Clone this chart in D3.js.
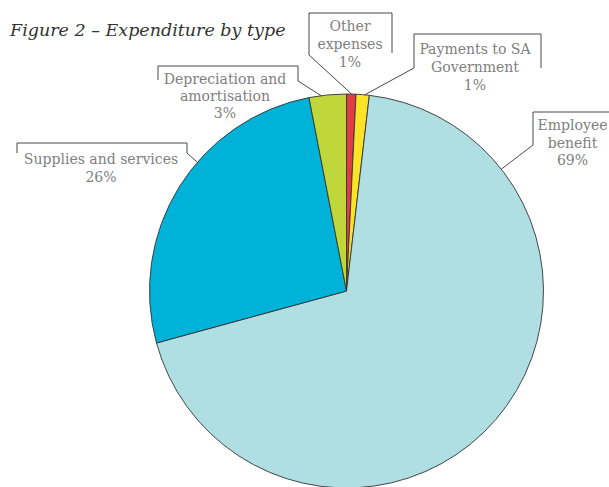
<!DOCTYPE html>
<html><head><meta charset="utf-8">
<script src="https://cdn.jsdelivr.net/npm/d3@7"></script>
<style>
html,body{margin:0;padding:0;background:#fff;}
svg{display:block;}
</style></head>
<body>
<svg id="c" width="609" height="487"></svg>
<script>
// ---- data ----
const categories = ["Other expenses", "Payments to SA Government", "Employee benefit", "Supplies and services", "Depreciation and amortisation"];
const values = [0.77, 1.08, 68.9, 26.2, 3.05];
const labelLines = [["Other", "expenses", "1%"], ["Payments to SA", "Government", "1%"], ["Employee", "benefit", "69%"], ["Supplies and services", "26%"], ["Depreciation and", "amortisation", "3%"]];
const colors = ["#e43c44", "#fde327", "#afdee3", "#00b2d8", "#bfd73a"];

// ---- layout ----
const W = 609, H = 487, cx = 346.5, cy = 291, R = 197;
const svg = d3.select("#c");
const font = "'DejaVu Serif', serif";

svg.append("text").attr("x", 10).attr("y", 36)
  .attr("font-family", font).attr("font-style", "italic").attr("font-size", 17.5)
  .attr("fill", "#333").text("Figure 2 \u2013 Expenditure by type");

const pie = d3.pie().sort(null).value(d => d)(values);
const arc = d3.arc().innerRadius(0).outerRadius(R);
const g = svg.append("g").attr("transform", `translate(${cx},${cy})`);
g.selectAll("path").data(pie).join("path")
  .attr("d", arc).attr("fill", (d, i) => colors[i])
  .attr("stroke", "#333").attr("stroke-width", 0.9).attr("stroke-linejoin", "round");

// label boxes: left, right, top, bottom of left leg, bottom of right leg, leader side, anchor angle(deg), text centre x, first baseline, line height
const boxes = [
  {l: 309, r: 392, t: 13, bl: 55, br: 53, side: "l", ang: 1.5, tx: 350, ty: 30.5, lh: 18},
  {l: 414, r: 541, t: 34, bl: 68, br: 68, side: "l", ang: 5.3, tx: 475, ty: 53.5, lh: 18},
  {l: 533, r: 640, t: 112, bl: 145, br: 145, side: "l", ang: 51.8, tx: 572.5, ty: 130, lh: 17.5},
  {l: 17, r: 187, t: 143, bl: 153, br: 153, side: "r", ang: 310.8, tx: 101, ty: 164, lh: 18},
  {l: 158, r: 298, t: 66, bl: 80, br: 81, side: "r", ang: 352.6, tx: 225, ty: 83.5, lh: 17}
];

boxes.forEach((b, i) => {
  const a = b.ang * Math.PI / 180;
  const ax = cx + R * Math.sin(a), ay = cy - R * Math.cos(a);
  const sx = b.side === "l" ? b.l : b.r, sy = b.side === "l" ? b.bl : b.br;
  const p = d3.path();
  p.moveTo(b.l, b.bl); p.lineTo(b.l, b.t); p.lineTo(b.r, b.t); p.lineTo(b.r, b.br);
  svg.append("path").attr("d", p.toString()).attr("fill", "none").attr("stroke", "#333").attr("stroke-width", 0.9);
  svg.append("line").attr("x1", sx).attr("y1", sy).attr("x2", ax).attr("y2", ay)
    .attr("stroke", "#333").attr("stroke-width", 0.9);
  const t = svg.append("text").attr("font-family", font).attr("font-stretch", "condensed")
    .attr("font-size", 15.6).attr("fill", "#808080").attr("text-anchor", "middle");
  labelLines[i].forEach((ln, k) => {
    t.append("tspan").attr("x", b.tx).attr("y", b.ty + k * b.lh).text(ln);
  });
});
</script>
</body></html>
